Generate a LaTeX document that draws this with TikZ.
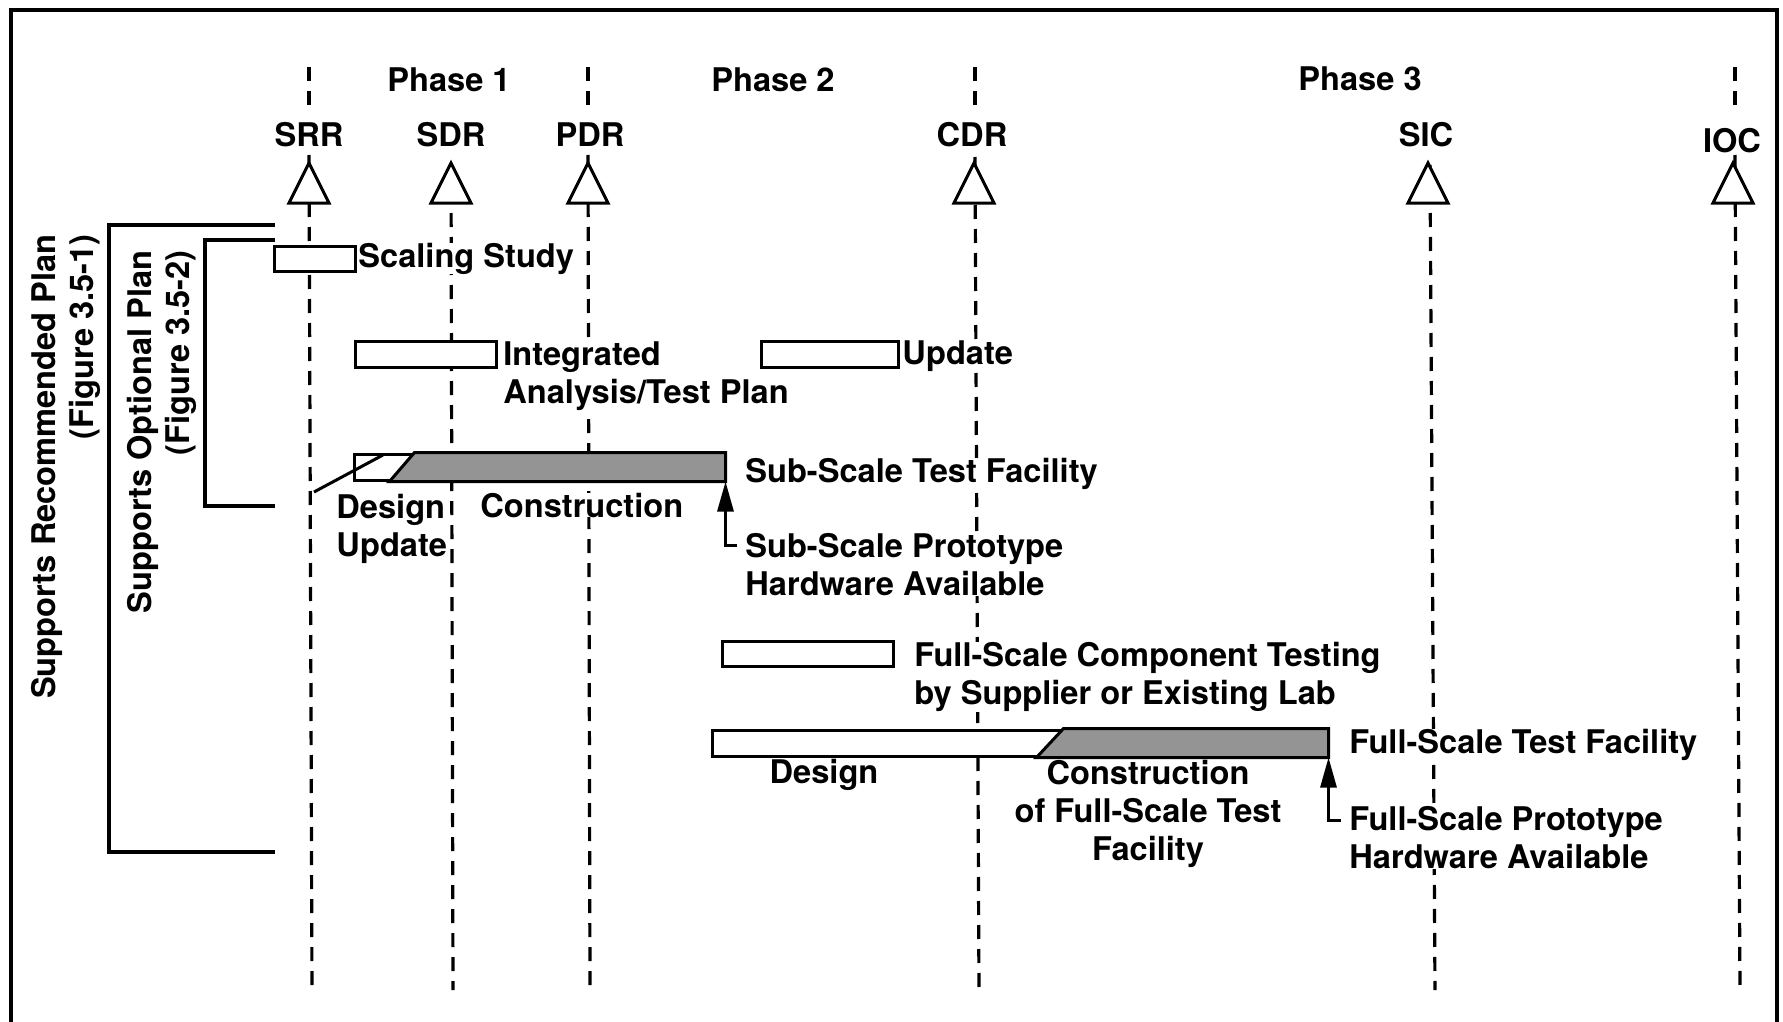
\documentclass[tikz,border=0pt]{standalone}
\usepackage{fontspec}
\setmainfont{TeX Gyre Heros}
\usetikzlibrary{arrows.meta,calc}
\begin{document}
\begin{tikzpicture}[x=0.5pt,y=-0.5pt,
  txt/.style={font=\bfseries\fontsize{16.3}{19}\selectfont, inner sep=0pt, fill=white},
  frameline/.style={line width=2pt},
  mline/.style={line width=1.6pt, dash pattern=on 7pt off 5pt},
  bracket/.style={line width=1.6pt},
  bar/.style={draw, line width=1.5pt, fill=white, rectangle, inner sep=0pt},
  hatch/.style={fill=black!42, draw, line width=1.5pt, line join=miter},
  mtri/.style={draw, line width=1.5pt, fill=white, line join=miter},
  ptr/.style={line width=1.5pt},
  hwarrow/.style={line width=1.5pt, -{Triangle[length=15pt,width=8pt]}},
]
\useasboundingbox (0,0) rectangle (1783,1022);

% outer frame
\draw[frameline] (11,1022) -- (11,10) -- (1777,10) -- (1777,1022);

% phase boundaries above the milestone labels
\foreach \x in {309,588,975,1735} \draw[mline] (\x,67) -- (\x,110);

% milestone lines
\foreach \xt/\xb/\ys in {309/312/155, 451/453/165, 588/590/155, 975/979/157, 1430/1435/165, 1735/1740/155}
  \draw[mline] (\xt,\ys) -- (\xb,990);

% milestone triangles
\foreach \x in {309,451,588,974,1428,1733}
  \draw[mtri] (\x,163) -- (\x-20,203) -- (\x+20,203) -- cycle;

% phase and milestone labels
\node[txt, anchor=base] (ph1) at (449,92) {Phase 1};
\node[txt, anchor=base] (ph2) at (773,92) {Phase 2};
\node[txt, anchor=base] (ph3) at (1360,91) {Phase 3};
\node[txt, anchor=base] (srr) at (309,147) {SRR};
\node[txt, anchor=base] (sdr) at (451,147) {SDR};
\node[txt, anchor=base] (pdr) at (590,147) {PDR};
\node[txt, anchor=base] (cdr) at (972,147) {CDR};
\node[txt, anchor=base] (sic) at (1426,147) {SIC};
\node[txt, anchor=base] (ioc) at (1732,153) {IOC};

% plan brackets
\draw[bracket] (275,225) -- (109,225) -- (109,852) -- (275,852);
\draw[bracket] (275,240) -- (205,240) -- (205,506) -- (275,506);
\node[txt, rotate=90, align=right, anchor=north east] (rec) at (31,234)
  {Supports Recommended Plan\\(Figure 3.5-1)};
\node[txt, rotate=90, align=right, anchor=north east] (opt) at (127,250)
  {Supports Optional Plan\\(Figure 3.5-2)};

% scaling study
\node[bar, minimum width=40.5pt, minimum height=12.5pt] (scal) at (314.5,258.5) {};
\node[txt, anchor=base west] (scalt) at (358,267) {Scaling Study};

% analysis/test plan and its update
\node[bar, minimum width=70.5pt, minimum height=13pt] (iatp) at (425.5,354) {};
\node[txt, align=left, anchor=north west] (iatpt) at (503,341) {Integrated\\Analysis/Test Plan};
\node[bar, minimum width=68.5pt, minimum height=13pt] (upd) at (829.5,354) {};
\node[txt, anchor=base west] (updt) at (902,364) {Update};

% sub-scale test facility
\node[bar, minimum width=185pt, minimum height=13pt] (ss) at (539,467) {};
\draw[hatch] ($(ss.south west)+(37,0)$) -- ($(ss.north west)+(62,0)$)
  -- (ss.north east) -- (ss.south east) -- cycle;
\node[txt, anchor=base west] (sst) at (745,482) {Sub-Scale Test Facility};
\node[txt, align=left, anchor=north west] (ssdes) at (336,494) {Design\\Update};
\coordinate (ssdes-tip) at (383,455);
\draw[ptr] ([xshift=-11pt,yshift=1pt]ssdes.north west) -- (ssdes-tip);
\node[txt, anchor=base west] (sscon) at (480,517) {Construction};
\node[txt, align=left, anchor=north west] (ssproto) at (745,533)
  {Sub-Scale Prototype\\Hardware Available};
\coordinate (ssproto-in) at (737,545);
\draw[hwarrow] (ssproto-in) -| (ss.south east);

% full-scale component testing
\node[bar, minimum width=85.5pt, minimum height=12.5pt] (fct) at (807.5,653.5) {};
\node[txt, align=left, anchor=north west] (fctt) at (914,642)
  {Full-Scale Component Testing\\by Supplier or Existing Lab};

% full-scale test facility
\node[bar, minimum width=307.5pt, minimum height=13pt] (fs) at (1019.5,743) {};
\draw[hatch] ($(fs.south west)+(326,0)$) -- ($(fs.north west)+(353,0)$)
  -- (fs.north east) -- (fs.south east) -- cycle;
\node[txt, anchor=base west] (fst) at (1349,753) {Full-Scale Test Facility};
\node[txt, anchor=base] (fsdes) at (824,783) {Design};
\node[txt, align=center, anchor=north] (fscon) at (1148,760)
  {Construction\\of Full-Scale Test\\Facility};
\node[txt, align=left, anchor=north west] (fsproto) at (1349,806)
  {Full-Scale Prototype\\Hardware Available};
\coordinate (fsproto-in) at (1341,820);
\draw[hwarrow] (fsproto-in) -| (fs.south east);
\end{tikzpicture}
\end{document}
